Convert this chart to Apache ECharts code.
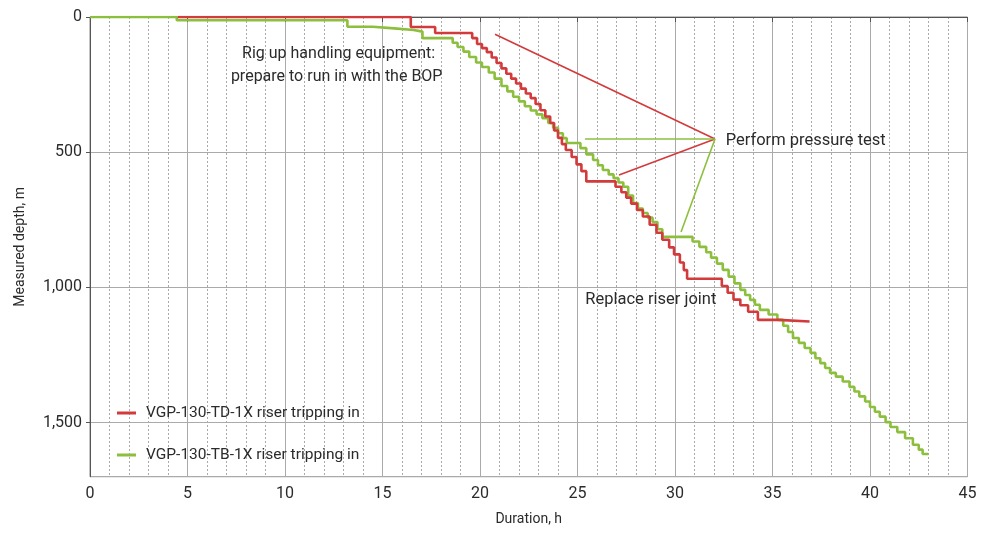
<!DOCTYPE html>
<html><head><meta charset="utf-8">
<script src="https://cdn.jsdelivr.net/npm/echarts@6/dist/echarts.min.js"></script>
<style>html,body{margin:0;padding:0;background:#fff}#c{width:983px;height:533px}</style>
</head><body><div id="c"></div>
<script>
// ---- data (hours, measured depth in m) ----
const tdName = 'VGP-130-TD-1X riser tripping in';
const tbName = 'VGP-130-TB-1X riser tripping in';
const tdHours = [4.5,16.45,17.7,19.6,19.85,20.1,20.35,20.6,20.85,21.1,21.35,21.6,21.85,22.1,22.35,22.6,22.85,23.1,23.35,23.6,23.8,24.0,24.2,24.4,24.7,24.95,25.2,25.45,26.95,27.25,27.5,27.75,28.05,28.35,28.7,29.05,29.35,29.7,29.95,30.25,30.45,30.62,32.4,32.7,33.0,33.35,33.75,34.25,35.3,36.9];
const tdDepth = [0,37,59,78,100,115,130,150,170,190,210,228,246,265,283,300,322,345,368,392,420,447,470,492,518,545,570,608,628,648,668,690,714,738,768,798,824,852,878,908,936,968,995,1020,1045,1066,1090,1120,1126,1126];
const tbHours = [0,4.45,13.2,14.5,15.6,16.6,17.05,18.6,18.85,19.15,19.45,19.8,20.1,20.45,20.75,21.1,21.4,21.7,22.0,22.3,22.6,22.9,23.2,23.5,23.75,24.0,24.25,24.45,25.15,25.45,25.8,26.05,26.3,26.6,26.85,27.1,27.35,27.6,27.85,28.1,28.35,28.6,28.85,29.1,29.35,30.9,31.25,31.6,31.85,32.15,32.45,32.75,33.05,33.35,33.6,33.85,34.1,34.35,34.8,35.25,35.55,35.8,36.05,36.35,36.65,36.95,37.2,37.45,37.7,37.95,38.25,38.6,38.95,39.2,39.45,39.75,40.0,40.25,40.5,40.8,41.05,41.4,41.8,42.2,42.5,42.7,43.0];
const tbDepth = [0,12,36,42,48,54,78,95,111,128,148,168,185,205,228,255,275,295,312,330,346,360,374,392,410,430,448,466,485,508,529,548,566,582,596,612,628,660,688,708,725,742,758,785,813,830,850,870,890,912,935,960,985,1009,1028,1046,1064,1083,1100,1120,1142,1165,1187,1205,1224,1242,1262,1280,1298,1316,1330,1348,1368,1385,1403,1422,1442,1460,1478,1498,1516,1535,1558,1582,1600,1616,1616];
const xTicks = [0,5,10,15,20,25,30,35,40,45];
const yTicks = [0,500,1000,1500];
// annotation callouts (data units)
const calloutTip = [32.05, 451];
const tdCalloutFrom = [[20.77, 64], [27.13, 584]];
const tbCalloutFrom = [[25.38, 451], [30.31, 795]];
const notes = [
  {text: 'Rig up handling equipment:', at: [12.75, 137], align: 'center', size: 16},
  {text: 'prepare to run in with the BOP', at: [12.65, 222], align: 'center', size: 16},
  {text: 'Perform pressure test', at: [32.6, 458], align: 'left', size: 16.5},
  {text: 'Replace riser joint', at: [25.4, 1046], align: 'left', size: 16.5}
];

const FONT = 'Roboto,"Noto Sans",sans-serif';
const RED = '#d23a3b', GREEN = '#8dbf3e';
const TXT = '#2b2b2b';
const zip = (a, b) => a.map((v, i) => [v, b[i]]);
const chart = echarts.init(document.getElementById('c'), null, {renderer: 'canvas'});
const mk = (from, color) => ({
  silent: true, symbol: 'none', animation: false,
  label: {show: false},
  lineStyle: {color: color, width: 1.6, type: 'solid'},
  emphasis: {disabled: true},
  data: from.map(p => [{coord: p}, {coord: calloutTip}])
});
chart.setOption({
  animation: false,
  textStyle: {fontFamily: FONT},
  grid: {left: 90, right: 15.5, top: 17, bottom: 56.3, show: true, borderColor: '#888', borderWidth: 1},
  legend: {
    orient: 'vertical', left: 112, top: 400, itemGap: 26,
    icon: 'rect', itemWidth: 19, itemHeight: 3,
    textStyle: {fontFamily: FONT, fontSize: 15.5, color: TXT, padding: [0, 0, 0, 5]},
    data: [tdName, tbName]
  },
  xAxis: {
    type: 'value', min: 0, max: 45, interval: 5,
    name: 'Duration, h', nameLocation: 'middle', nameGap: 36,
    nameTextStyle: {fontFamily: FONT, fontSize: 14, color: TXT},
    axisLine: {lineStyle: {color: '#555'}},
    axisTick: {show: true, length: 5, lineStyle: {color: '#555'}},
    axisLabel: {fontFamily: FONT, fontSize: 16, color: TXT, margin: 9,
      formatter: v => xTicks.includes(v) ? String(v) : ''},
    splitLine: {show: true, lineStyle: {color: '#aaa', width: 1}},
    minorTick: {show: false, splitNumber: 5},
    minorSplitLine: {show: true, lineStyle: {color: '#aaa', width: 1, type: [2, 2]}}
  },
  yAxis: {
    type: 'value', inverse: true, min: 0, max: 1700, interval: 500,
    name: 'Measured depth, m', nameLocation: 'middle', nameGap: 63,
    nameTextStyle: {fontFamily: FONT, fontSize: 14, color: TXT},
    axisLine: {show: true, lineStyle: {color: '#555'}},
    axisTick: {show: true, length: 4, lineStyle: {color: '#555'}},
    axisLabel: {fontFamily: FONT, fontSize: 16, color: TXT, margin: 8, showMaxLabel: false,
      formatter: v => yTicks.includes(v) ? v.toLocaleString('en-US') : ''},
    splitLine: {show: true, lineStyle: {color: '#aaa', width: 1}}
  },
  series: [
    {name: tdName, type: 'line', step: 'end', showSymbol: false, color: RED,
     lineStyle: {color: RED, width: 2.6}, data: zip(tdHours, tdDepth), z: 3,
     markLine: mk(tdCalloutFrom, RED)},
    {name: tbName, type: 'line', step: 'end', showSymbol: false, color: GREEN,
     lineStyle: {color: GREEN, width: 2.6}, data: zip(tbHours, tbDepth), z: 2,
     markLine: mk(tbCalloutFrom, GREEN)}
  ]
});
const g = notes.map(n => {
  const p = chart.convertToPixel({gridIndex: 0}, n.at);
  return {type: 'text', x: p[0], y: p[1], z: 10,
    style: {text: n.text, fill: TXT, font: n.size + 'px ' + FONT, textAlign: n.align, textVerticalAlign: 'middle'}};
});
chart.setOption({graphic: g});
</script></body></html>
